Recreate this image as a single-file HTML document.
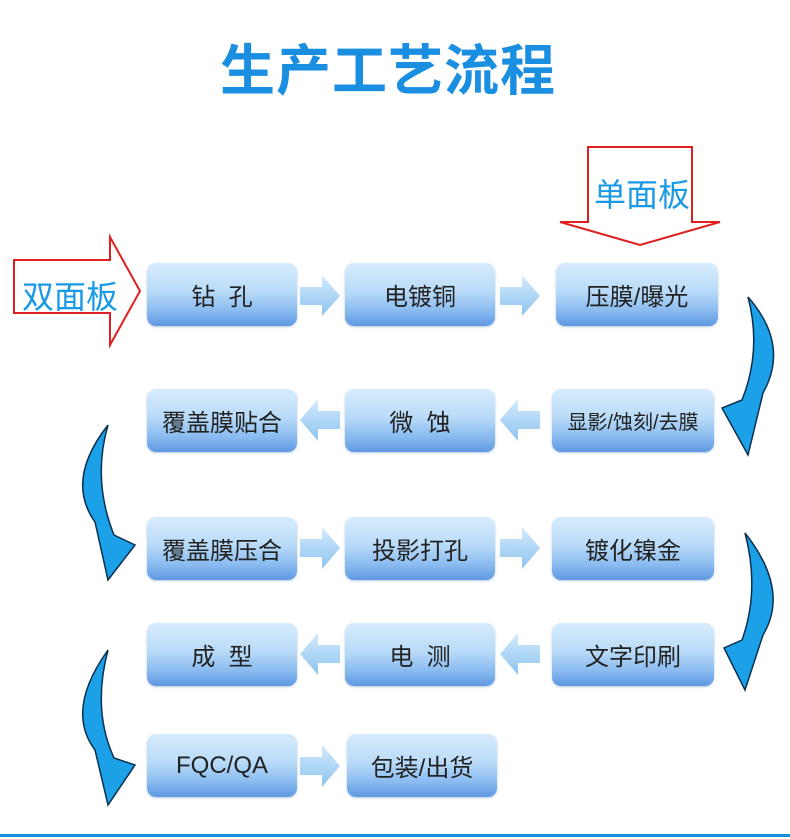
<!DOCTYPE html>
<html><head><meta charset="utf-8"><style>
body{margin:0;width:790px;height:839px;background:#fff;position:relative;overflow:hidden;font-family:"Liberation Sans","Noto Sans CJK SC",sans-serif}
.t{position:absolute;left:0;width:776px;top:26px;text-align:center;font-size:55px;font-weight:bold;color:#1a8ee0;letter-spacing:1px}
.b{position:absolute;width:150px;height:63px;border-radius:9px;background:linear-gradient(#d8ecfc 0%,#b9dbf8 45%,#8bbcf0 75%,#5e98e2 100%);display:flex;align-items:center;justify-content:center;font-size:24px;color:#222;box-shadow:0 1px 2px rgba(80,120,180,.4);white-space:nowrap}
.w{width:162px}
svg{position:absolute;left:0;top:0}
.lab{position:absolute;font-size:32px;color:#1a9ae6}
</style></head><body>
<div class="t">生产工艺流程</div>
<svg width="790" height="839">
<defs><linearGradient id="ar" x1="0" y1="0" x2="0" y2="1"><stop offset="0" stop-color="#d3eafc"/><stop offset="1" stop-color="#8ec4f0"/></linearGradient></defs>
<polygon points="14,260 110,260 110,237 140,291 110,345 110,313 14,313" fill="#fff" stroke="#e02020" stroke-width="2"/>
<polygon points="588,147 692,147 692,222 720,222 640,245 560,222 588,222" fill="#fff" stroke="#e02020" stroke-width="2"/>
<g fill="url(#ar)">
<polygon points="300,287 322,287 322,275 340,296 322,316 322,305 300,305"/>
<polygon points="500,287 522,287 522,275 540,296 522,316 522,305 500,305"/>
<polygon points="340,411 318,411 318,399 300,420 318,441 318,429 340,429"/>
<polygon points="540,411 518,411 518,399 500,420 518,441 518,429 540,429"/>
<polygon points="300,539 322,539 322,527 340,548 322,569 322,557 300,557"/>
<polygon points="500,539 522,539 522,527 540,548 522,569 522,557 500,557"/>
<polygon points="340,645 318,645 318,633 300,654 318,675 318,663 340,663"/>
<polygon points="540,645 518,645 518,633 500,654 518,675 518,663 540,663"/>
<polygon points="300,757 322,757 322,745 340,766 322,787 322,775 300,775"/>
</g>
<g fill="#1ca0e8" stroke="#0a3050" stroke-width="1.5">
<path d="M748,297 Q790,345 763,393 L748,455 L722,408 L742,400 Q762,350 748,297 Z"/>
<path d="M745,533 Q790,590 763,635 L745,690 L724,648 L742,640 Q760,590 745,533 Z"/>
<path d="M108,425 Q65,480 95,522 L108,580 L135,545 L114,535 Q92,480 108,425 Z"/>
<path d="M108,650 Q65,710 95,750 L108,805 L135,765 L114,758 Q92,710 108,650 Z"/>
</g>
<rect x="0" y="834" width="790" height="3" fill="#1a8ee0"/>
</svg>
<div class="lab" style="left:22px;top:272px">双面板</div>
<div class="lab" style="left:594px;top:170px">单面板</div>
<div class="b" style="left:147px;top:263px">钻&nbsp;&nbsp;孔</div>
<div class="b" style="left:345px;top:263px">电镀铜</div>
<div class="b w" style="left:556px;top:263px">压膜/曝光</div>
<div class="b" style="left:147px;top:389px">覆盖膜贴合</div>
<div class="b" style="left:345px;top:389px">微&nbsp;&nbsp;蚀</div>
<div class="b w" style="left:552px;top:389px;font-size:20px">显影/蚀刻/去膜</div>
<div class="b" style="left:147px;top:517px">覆盖膜压合</div>
<div class="b" style="left:345px;top:517px">投影打孔</div>
<div class="b w" style="left:552px;top:517px">镀化镍金</div>
<div class="b" style="left:147px;top:623px">成&nbsp;&nbsp;型</div>
<div class="b" style="left:345px;top:623px">电&nbsp;&nbsp;测</div>
<div class="b w" style="left:552px;top:623px">文字印刷</div>
<div class="b" style="left:147px;top:734px">FQC/QA</div>
<div class="b" style="left:347px;top:734px">包装/出货</div>
</body></html>
